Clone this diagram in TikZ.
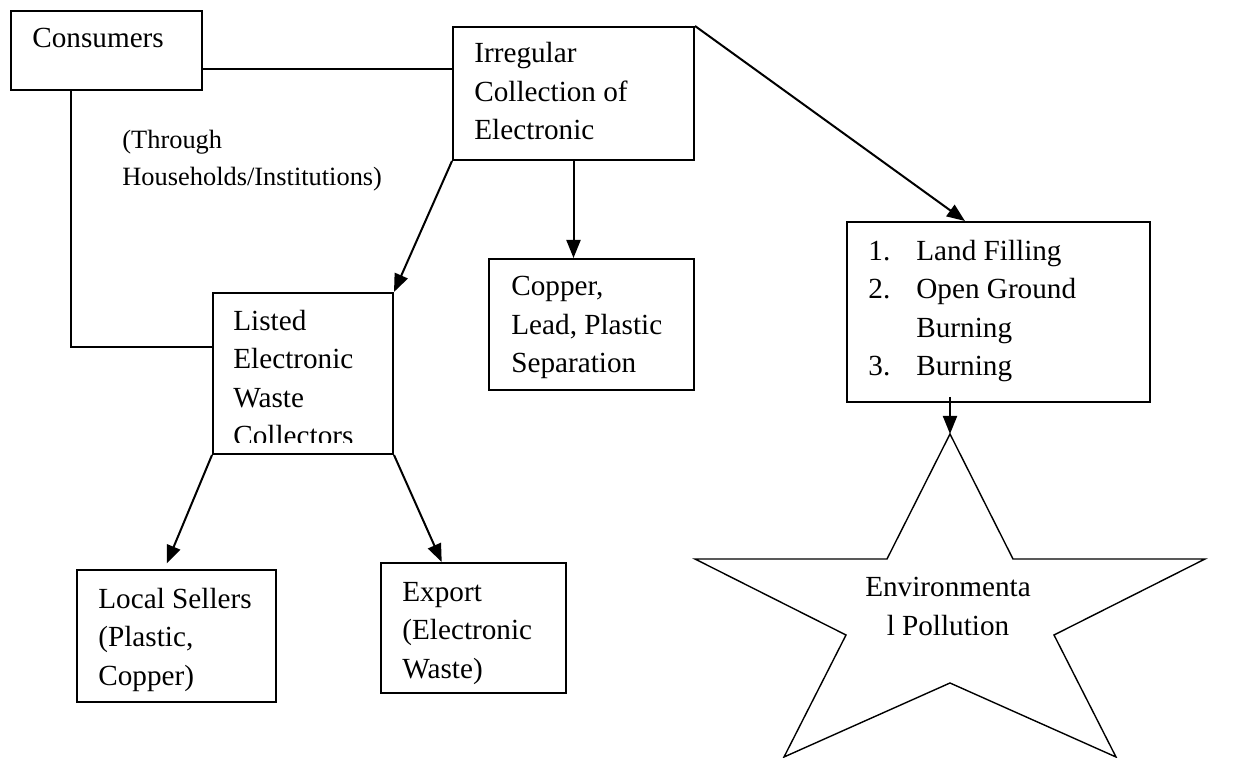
\documentclass[tikz,border=0pt]{standalone}
\usepackage{fontspec}
\setmainfont{Liberation Serif}
\usetikzlibrary{arrows.meta}
\usetikzlibrary{calc}
\usetikzlibrary{fit}

\begin{document}
\begin{tikzpicture}[x=0.5pt,y=-0.5pt,
    box node/.style={draw,line width=1pt,inner sep=0pt},
    text node/.style={anchor=base west,align=left,inner sep=0pt,font=\fontsize{14.6}{19.25}\selectfont},
    flow/.style={line width=1pt,-{Triangle[length=9pt,width=7pt]}},
    link/.style={line width=1pt}]
    \useasboundingbox (0,0) rectangle (1242,758);

    % boxes
    \node[box node,fit={(11,11) (202,90)}] (cons) {};
    \node[box node,fit={(453,27) (694,160)}] (irr) {};
    \node[box node,fit={(489,259) (694,390)}] (copper) {};
    \node[box node,fit={(213,293) (393,454)}] (listed) {};
    \node[box node,fit={(847,222) (1150,402)}] (land) {};
    \node[box node,fit={(77,570) (276,702)}] (local) {};
    \node[box node,fit={(381,563) (566,693)}] (export) {};

    % texts (anchored at the baseline of their last line)
    \node[text node] (consT) at (32,48) {Consumers};
    \node[text node,font=\fontsize{13.2}{18.5}\selectfont] (thruT) at (122,186) {(Through\\Households/Institutions)};
    \node[text node] (irrT) at (474,140) {Irregular\\Collection of\\Electronic};
    \node[text node] (copperT) at (511,373) {Copper,\\Lead, Plastic\\Separation};
    \begin{scope}
        \clip (213,293) rectangle (393,443);
        \node[text node] (listedT) at (233,446) {Listed\\Electronic\\Waste\\Collectors};
    \end{scope}
    \node[text node] (landT) at (868,376) {\makebox[24pt][l]{1.}Land Filling\\\makebox[24pt][l]{2.}Open Ground\\\makebox[24pt][l]{}Burning\\\makebox[24pt][l]{3.}Burning};
    \node[text node] (localT) at (98,685) {Local Sellers\\(Plastic,\\Copper)};
    \node[text node] (exportT) at (402,678) {Export\\(Electronic\\Waste)};

    % star
    \coordinate (startop) at (950,434);
    \draw[line width=0.7pt] (startop) -- (1013,559) -- (1205,559) -- (1054,635)
        -- (1116,757) -- (950,683) -- (784,757) -- (846,635) -- (695,559)
        -- (887,559) -- cycle;
    \node[text node,anchor=base,align=center] (starT) at (948,635) {Environmenta\\l Pollution};

    % connectors
    \coordinate (consR) at ($(cons.north east)!.73!(cons.south east)$);
    \coordinate (consB) at ($(cons.south west)!.314!(cons.south east)$);
    \coordinate (listL) at ($(listed.north west)!.335!(listed.south west)$);
    \draw[link] (consR) -- (consR -| irr.west);
    \draw[link] (consB) |- (listL);

    \draw[flow] (irr.south west) -- (listed.north east);
    \draw[flow] (irr.south) -- (irr.south |- copper.north);
    \draw[flow] (irr.north east) -- ($(land.north west)!.39!(land.north east)$);
    \draw[flow] ([yshift=3pt]land.south -| startop) -- (startop);
    \draw[flow,shorten >=3pt] (listed.south west) -- ($(local.north west)!.44!(local.north east)$);
    \draw[flow] (listed.south east) -- ($(export.north west)!.33!(export.north east)$);
\end{tikzpicture}
\end{document}
